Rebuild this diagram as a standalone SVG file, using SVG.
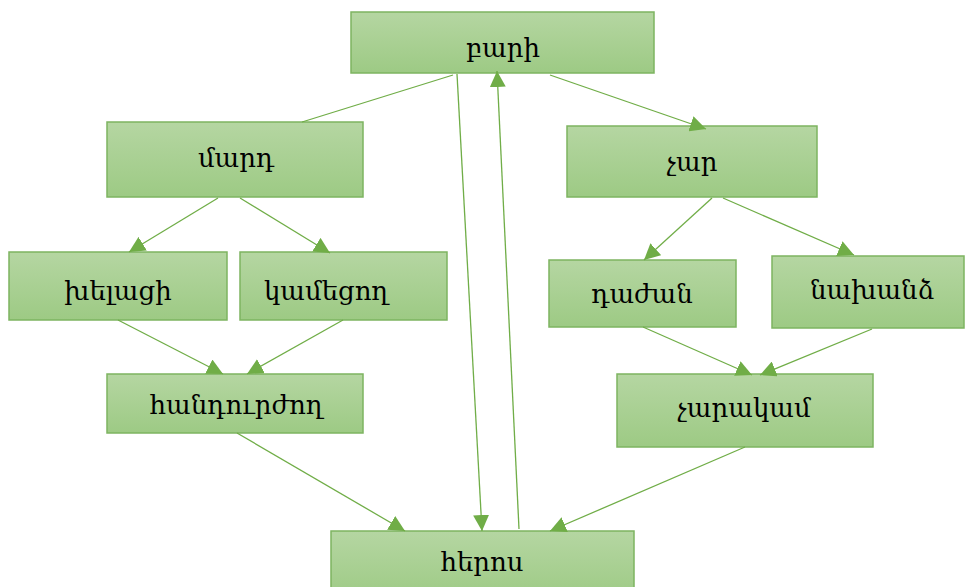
<svg xmlns="http://www.w3.org/2000/svg" width="965" height="587" viewBox="0 0 965 587">
<defs>
<linearGradient id="g" x1="0" y1="0" x2="0" y2="1">
<stop offset="0" stop-color="#b5d6a2"/>
<stop offset="1" stop-color="#9dca84"/>
</linearGradient>
<marker id="a" markerUnits="userSpaceOnUse" markerWidth="16" markerHeight="16" refX="16" refY="8" orient="auto" viewBox="0 0 16 16">
<path d="M0,0 L16,8 L0,16 z" fill="#70ad47"/>
</marker>
<style>
.n rect{fill:url(#g);stroke:#7db460;stroke-width:1.5}
.n text{font-family:"DejaVu Serif","Noto Serif Armenian","Noto Sans",serif;font-size:26px;fill:#000;text-anchor:middle}
#edges line{stroke:#70ad47;stroke-width:1.3;fill:none}
#edges line.ar{marker-end:url(#a)}
</style>
</defs>
<rect width="965" height="587" fill="#fff"/>
<g id="nodes" class="n">
<g id="bari"><rect x="351" y="12" width="303" height="61"/><text x="503" y="57">բարի</text></g>
<g id="mard"><rect x="107" y="122" width="256" height="75"/><text x="236" y="167">մարդ</text></g>
<g id="char"><rect x="567" y="126" width="250" height="71"/><text x="692" y="171">չար</text></g>
<g id="khelatsi"><rect x="9" y="252" width="218" height="68"/><text x="118" y="300">խելացի</text></g>
<g id="kametsogh"><rect x="240" y="252" width="207" height="68"/><text x="326" y="300">կամեցող</text></g>
<g id="handurzhogh"><rect x="107" y="374" width="256" height="59"/><text x="236" y="414">հանդուրժող</text></g>
<g id="dazhan"><rect x="549" y="260" width="187" height="67"/><text x="642" y="303">դաժան</text></g>
<g id="nakhandz"><rect x="772" y="256" width="192" height="72"/><text x="872" y="299">նախանձ</text></g>
<g id="charakam"><rect x="617" y="374" width="256" height="73"/><text x="744" y="417">չարակամ</text></g>
<g id="heros"><rect x="331" y="531" width="303" height="70"/><text x="482" y="571">հերոս</text></g>
</g>
<g id="edges">
<line x1="453" y1="75" x2="302" y2="122"/>
<line class="ar" x1="457" y1="74" x2="482" y2="531"/>
<line class="ar" x1="519" y1="529" x2="497" y2="71"/>
<line class="ar" x1="550" y1="75" x2="706" y2="129"/>
<line class="ar" x1="218" y1="198" x2="129" y2="252"/>
<line class="ar" x1="240" y1="198" x2="330" y2="253"/>
<line class="ar" x1="118" y1="320" x2="223" y2="374"/>
<line class="ar" x1="343" y1="320" x2="247" y2="374"/>
<line class="ar" x1="237" y1="433" x2="405" y2="531"/>
<line class="ar" x1="712" y1="198" x2="644" y2="260"/>
<line class="ar" x1="723" y1="198" x2="854" y2="255"/>
<line class="ar" x1="643" y1="327" x2="752" y2="375"/>
<line class="ar" x1="872" y1="329" x2="760" y2="375"/>
<line class="ar" x1="745" y1="447" x2="550" y2="531"/>
</g>
</svg>
